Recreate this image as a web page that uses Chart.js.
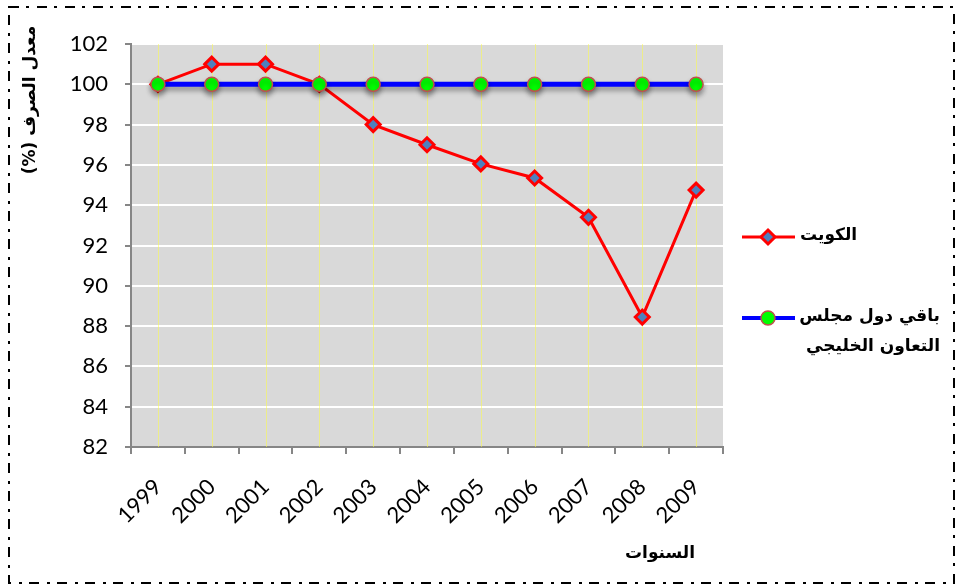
<!DOCTYPE html>
<html>
<head>
<meta charset="utf-8">
<script src="https://cdn.jsdelivr.net/npm/chart.js@4"></script>
<style>
  body { margin: 0; background: #fff; }
  canvas { display: block; }
</style>
</head>
<body>
<canvas id="myChart" width="960" height="586"></canvas>
<script>
// data
var years = ["1999", "2000", "2001", "2002", "2003", "2004", "2005", "2006", "2007", "2008", "2009"];
var kuwait = [100, 101, 101, 100, 98, 97, 96.05, 95.35, 93.4, 88.45, 94.75];
var gcc = [100, 100, 100, 100, 100, 100, 100, 100, 100, 100, 100];
var kuwaitName = "الكويت";
var gccName = ["باقي دول مجلس", "التعاون الخليجي"];
var yTitle = "معدل الصرف (%)";
var xTitle = "السنوات";
var yMin = 82, yMax = 102, yStep = 2;

var arabicFont = "bold 17px 'DejaVu Sans'";

// gray plot background
var plotBg = {
  id: "plotBg",
  beforeDraw: function (chart) {
    var a = chart.chartArea, c = chart.ctx;
    c.save();
    c.fillStyle = "#d9d9d9";
    c.fillRect(a.left, a.top, a.right - a.left, a.bottom - a.top);
    c.restore();
  },
  // thin yellow lines at each year
  beforeDatasetsDraw: function (chart) {
    var a = chart.chartArea, c = chart.ctx, xs = chart.scales.x;
    c.save();
    c.strokeStyle = "rgba(255,255,60,0.5)";
    c.lineWidth = 1;
    for (var i = 0; i < years.length; i++) {
      var x = Math.round(xs.getPixelForValue(i)) + 0.5;
      c.beginPath();
      c.moveTo(x, a.top);
      c.lineTo(x, a.bottom);
      c.stroke();
    }
    c.restore();
  }
};

// shadow under the blue line
var lineShadow = {
  id: "lineShadow",
  beforeDatasetDraw: function (chart, args) {
    if (args.index !== 1) return;
    var c = chart.ctx;
    c.save();
    c.shadowColor = "rgba(0,0,0,0.35)";
    c.shadowBlur = 5;
    c.shadowOffsetY = 4;
  },
  afterDatasetDraw: function (chart, args) {
    if (args.index !== 1) return;
    chart.ctx.restore();
  }
};

// legend, axis titles, dash-dot frame
var extras = {
  id: "extras",
  afterDraw: function (chart) {
    var c = chart.ctx;
    c.save();

    // legend: Kuwait
    c.strokeStyle = "red";
    c.lineWidth = 3;
    c.beginPath(); c.moveTo(742, 237); c.lineTo(795, 237); c.stroke();
    c.beginPath();
    c.moveTo(768, 230); c.lineTo(775, 237); c.lineTo(768, 244); c.lineTo(761, 237); c.closePath();
    c.fillStyle = "#4f81bd"; c.fill(); c.stroke();

    // legend: GCC
    c.strokeStyle = "#0000ff";
    c.lineWidth = 4;
    c.beginPath(); c.moveTo(742, 318); c.lineTo(795, 318); c.stroke();
    c.beginPath(); c.arc(768, 318, 7, 0, Math.PI * 2);
    c.fillStyle = "#00ff00"; c.fill();
    c.strokeStyle = "#c0504d"; c.lineWidth = 1.5; c.stroke();

    c.fillStyle = "#000";
    c.font = arabicFont;
    c.direction = "rtl";
    c.textBaseline = "middle";
    c.textAlign = "left";
    c.fillText(kuwaitName, 800, 236);
    c.textAlign = "right";
    c.fillText(gccName[0], 940, 317);
    c.fillText(gccName[1], 940, 347);

    // x title
    c.textAlign = "center";
    c.fillText(xTitle, 660, 554);

    // y title
    c.save();
    c.translate(31, 100);
    c.rotate(-Math.PI / 2);
    c.fillText(yTitle, 0, 0);
    c.restore();

    // frame
    c.direction = "ltr";
    c.strokeStyle = "#000";
    c.lineWidth = 2;
    c.setLineDash([10, 7, 3, 8]);
    c.strokeRect(9, 7, 945, 576);
    c.restore();
  }
};

var ctx = document.getElementById("myChart").getContext("2d");
var myChart = new Chart(ctx, {
  type: "line",
  data: {
    labels: years,
    datasets: [
      {
        label: kuwaitName,
        data: kuwait,
        order: 1,
        borderColor: "#ff0000",
        borderWidth: 3,
        tension: 0,
        pointStyle: "rectRot",
        pointRadius: 7,
        pointBackgroundColor: "#4f81bd",
        pointBorderColor: "#ff0000",
        pointBorderWidth: 3,
      },
      {
        label: gccName.join(" "),
        data: gcc,
        order: 0,
        borderColor: "#0000ff",
        borderWidth: 5,
        tension: 0,
        pointStyle: "circle",
        pointRadius: 7,
        pointBackgroundColor: "#00ff00",
        pointBorderColor: "#c0504d",
        pointBorderWidth: 1.5,
      },
    ],
  },
  options: {
    responsive: false,
    animation: false,
    events: [],
    layout: {
      padding: { top: 44, right: 237, left: 0, bottom: 0 },
    },
    plugins: {
      legend: { display: false },
      tooltip: { enabled: false },
    },
    scales: {
      x: {
        offset: true,
        afterFit: function (s) { s.height = 139; },
        grid: {
          offset: true,
          drawOnChartArea: false,
          color: "#868686",
          tickColor: "#868686",
          tickLength: 7,
          lineWidth: 2,
        },
        border: { color: "#868686", width: 2 },
        ticks: {
          minRotation: 45,
          maxRotation: 45,
          padding: 20,
          color: "#000",
          font: { family: "Lato", size: 22 },
        },
      },
      y: {
        min: yMin,
        max: yMax,
        afterFit: function (s) { s.width = 131; },
        grid: {
          color: "#ffffff",
          tickColor: "#868686",
          tickLength: 6,
          lineWidth: 2,
        },
        border: { color: "#868686", width: 2 },
        ticks: {
          stepSize: yStep,
          padding: 17,
          color: "#000",
          font: { family: "Lato", size: 22 },
        },
      },
    },
  },
  plugins: [plotBg, lineShadow, extras],
});
</script>
</body>
</html>
